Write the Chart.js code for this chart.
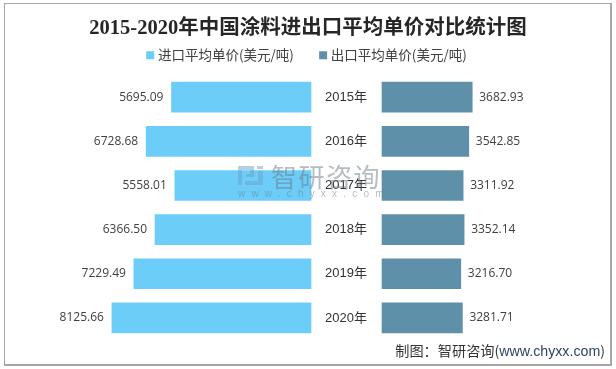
<!DOCTYPE html>
<html>
<head>
<meta charset="utf-8">
<script src="https://cdn.jsdelivr.net/npm/chart.js@4"></script>
<style>
html,body{margin:0;padding:0;background:#fff}
#wrap{position:relative;width:616px;height:369px;overflow:hidden}
#frame{position:absolute;left:4px;top:3px;width:605px;height:360px;border:1px solid #a6a6a6;border-right-width:2px;border-bottom-width:2px;pointer-events:none}
#source{position:absolute;right:11px;top:340px;font:14.2px "Noto Sans CJK SC";color:#333;white-space:nowrap}
#source span{color:#2f4468;font-family:"Liberation Sans"}
#mark{position:absolute;left:238px;top:164px;width:142px;height:36px;opacity:.5;color:#6d7a86}
#mark b{position:absolute;left:33px;top:-3px;font:400 26px/30px "Noto Sans CJK SC";letter-spacing:1.5px;white-space:nowrap}
#mark i{position:absolute;left:0;top:24px;font:normal 10px/11px "Liberation Sans";letter-spacing:6.2px;white-space:nowrap}
#mark svg{position:absolute;left:0;top:2px}
</style>
</head>
<body>
<div id="wrap">
<canvas id="c" width="616" height="369"></canvas>
<div id="mark">
<svg width="25" height="23" viewBox="0 0 25 23"><path d="M0 0h16v11H8V8h4V4H4v15H0zM7 19h18V5h-5v10H7zM19 0h6v3h-6z" fill="#6f9fc8"/></svg>
<b>智研咨询</b><i>www.chyxx.com</i>
</div>
<div id="source">制图：智研咨询(<span>www.chyxx.com</span>)</div>
<div id="frame"></div>
</div>
<script>
const years = ['2015年','2016年','2017年','2018年','2019年','2020年'];
const importPrice = [5695.09,6728.68,5558.01,6366.50,7229.49,8125.66];
const exportPrice = [3682.93,3542.85,3311.92,3352.14,3216.70,3281.71];
const importName = '进口平均单价(美元/吨)';
const exportName = '出口平均单价(美元/吨)';

// both value axes span the whole canvas, only the zero is shifted
const pxPerUnit = 0.0245, zeroLeft = 311, zeroRight = 382, W = 616;

const valueLabels = {
  id:'valueLabels',
  afterDatasetsDraw(chart){
    const ctx = chart.ctx;
    ctx.save();
    ctx.font = '12px "Open Sans"';
    ctx.fillStyle = '#404040';
    ctx.textBaseline = 'middle';
    chart.data.datasets.forEach((ds,i)=>{
      chart.getDatasetMeta(i).data.forEach((bar,j)=>{
        const txt = ds.data[j].toFixed(2);
        ctx.textAlign = i===0 ? 'right' : 'left';
        ctx.fillText(txt, bar.x + (i===0 ? -8 : 7), bar.y);
      });
    });
    ctx.restore();
  }
};

new Chart(document.getElementById('c').getContext('2d'),{
  type:'bar',
  data:{
    labels:years,
    datasets:[
      {label:importName,data:importPrice,backgroundColor:'#6ccdf9',xAxisID:'xL',barThickness:30},
      {label:exportName,data:exportPrice,backgroundColor:'#5f90a9',xAxisID:'xR',barThickness:30}
    ]
  },
  options:{
    indexAxis:'y',
    responsive:false,
    animation:false,
    layout:{padding:{top:0,bottom:29,left:0,right:0}},
    plugins:{
      tooltip:{enabled:false},
      title:{display:true,text:'2015-2020年中国涂料进出口平均单价对比统计图',color:'#262626',
        font:{family:'"Liberation Serif","Noto Sans CJK SC"',size:20.5,weight:'bold'},padding:{top:16,bottom:0}},
      legend:{position:'top',labels:{usePointStyle:true,pointStyle:'rect',boxWidth:2,boxHeight:8,padding:8,color:'#404040',
        font:{family:'"Noto Sans CJK SC"',size:13.5},
        generateLabels(chart){
          const items = Chart.defaults.plugins.legend.labels.generateLabels(chart);
          items[0].text += '\u3000\u2002';
          return items;
        }}}
    },
    scales:{
      // hidden axis on top only keeps the gap between the legend and the bars
      xL:{type:'linear',reverse:true,position:'top',min:(zeroLeft-W)/pxPerUnit,max:zeroLeft/pxPerUnit,
        grid:{display:false},border:{display:false},ticks:{display:false},afterFit(s){s.height=3}},
      xR:{type:'linear',display:false,min:-zeroRight/pxPerUnit,max:(W-zeroRight)/pxPerUnit,grid:{display:false}},
      y:{position:{xR:-15/pxPerUnit},grid:{display:false},border:{display:false},
        ticks:{color:'#333',padding:0,font:{family:'"Liberation Sans","Noto Sans CJK SC"',size:13}}}
    },
    datasets:{bar:{grouped:false}}
  },
  plugins:[valueLabels]
});
</script>
</body>
</html>
